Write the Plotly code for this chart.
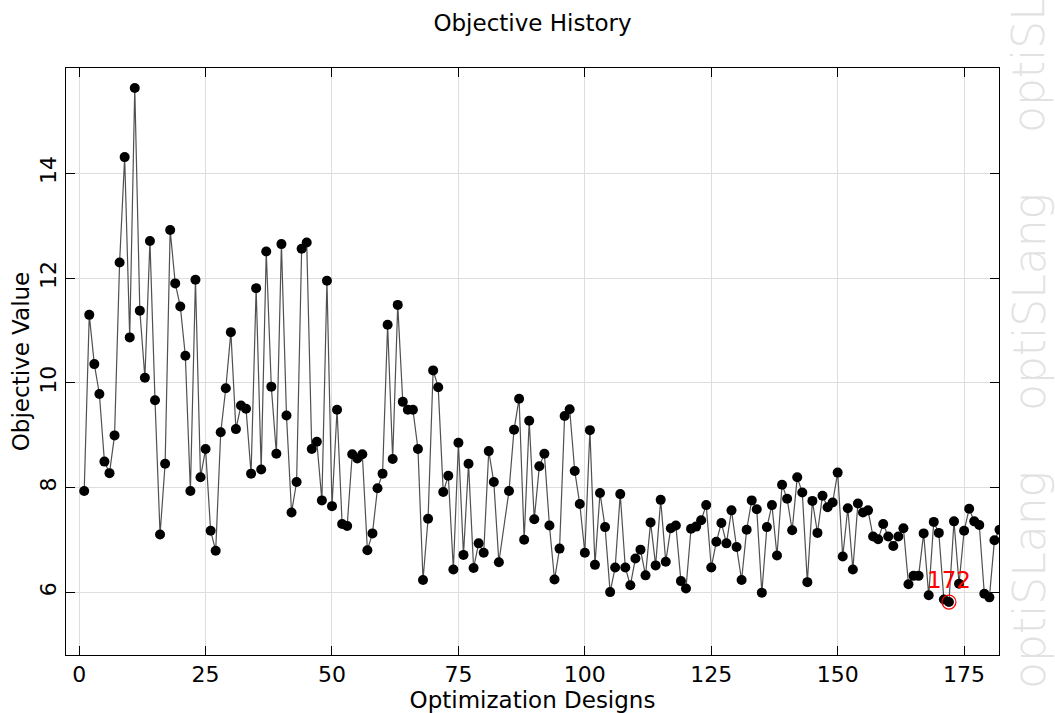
import numpy as np
import plotly.graph_objects as go

# Design numbers (design 84 produced no result)
designs = list(range(1, 84)) + list(range(85, 183))

# Objective value per design
objective = [
    7.94, 11.30, 10.36, 9.79, 8.50, 8.28, 9.00, 12.30, 14.31, 10.87,
    15.63, 11.38, 10.10, 12.71, 9.67, 7.11, 8.46, 12.92, 11.90, 11.46,
    10.52, 7.94, 11.97, 8.20, 8.74, 7.18, 6.80, 9.06, 9.90, 10.97,
    9.12, 9.57, 9.51, 8.27, 11.81, 8.35, 12.51, 9.93, 8.65, 12.65,
    9.38, 7.53, 8.11, 12.56, 12.68, 8.74, 8.88, 7.76, 11.95, 7.65,
    9.49, 7.31, 7.27, 8.64, 8.56, 8.64, 6.81, 7.13, 7.99, 8.27,
    11.11, 8.55, 11.49, 9.64, 9.49, 9.49, 8.74, 6.24, 7.41, 10.24,
    9.92, 7.92, 8.23, 6.44, 8.86, 6.72, 8.46, 6.47, 6.94, 6.76,
    8.70, 8.11, 6.58,
    7.94, 9.11, 9.70, 7.01, 9.28, 7.40, 8.41, 8.65, 7.28, 6.25,
    6.84, 9.37, 9.50, 8.32, 7.69, 6.76, 9.10, 6.53, 7.90, 7.25,
    6.01, 6.48, 7.88, 6.48, 6.14, 6.65, 6.82, 6.33, 7.34, 6.52,
    7.77, 6.59, 7.23, 7.28, 6.22, 6.08, 7.22, 7.26, 7.38, 7.67,
    6.48, 6.97, 7.33, 6.94, 7.57, 6.87, 6.24, 7.20, 7.76, 7.59,
    6.00, 7.25, 7.67, 6.71, 8.06, 7.79, 7.19, 8.20, 7.91, 6.20,
    7.75, 7.14, 7.85, 7.63, 7.72, 8.29, 6.69, 7.61, 6.44, 7.70,
    7.53, 7.57, 7.07, 7.02, 7.31, 7.07, 6.89, 7.07, 7.23, 6.16,
    6.32, 6.32, 7.13, 5.95, 7.35, 7.14, 5.87, 5.82, 7.36, 6.17,
    7.18, 7.60, 7.36, 7.29, 5.98, 5.91, 7.00, 7.20,
]

x_ticks = [0, 25, 50, 75, 100, 125, 150, 175]
y_ticks = [6, 8, 10, 12, 14]

best = int(np.argmin(objective))
best_design = designs[best]
best_value = objective[best]

W, H = 1055, 713
L, R, T, B = 66, 56, 68, 58
plot_w = W - L - R
plot_h = H - T - B

FONT = "DejaVu Sans"

fig = go.Figure()

fig.add_trace(go.Scatter(
    x=designs, y=objective, mode="lines+markers",
    line=dict(color="#505050", width=1.2),
    marker=dict(color="black", size=10, symbol="circle"),
    showlegend=False, hoverinfo="x+y",
))

# highlight of the best design
fig.add_trace(go.Scatter(
    x=[best_design], y=[best_value], mode="markers",
    marker=dict(symbol="circle-open", size=14, color="red", line=dict(width=1.2, color="red")),
    showlegend=False, hoverinfo="skip",
))

fig.add_annotation(
    x=best_design, y=best_value, text=str(best_design), showarrow=False,
    yshift=22, font=dict(family=FONT, size=23, color="red"),
)

# vertical watermark along the right edge
for yc in [580, 302, 24]:
    fig.add_annotation(
        xref="paper", yref="paper",
        x=(1029 - L) / plot_w, y=(H - B - yc) / plot_h,
        text="optiSLang", textangle=-90, showarrow=False,
        font=dict(family=FONT, size=44, color="#e2e2e2", weight=200),
        xanchor="center", yanchor="middle",
    )

axis_common = dict(
    showline=True, linecolor="black", linewidth=1, mirror="allticks",
    ticks="inside", ticklen=9, tickcolor="black", tickwidth=1,
    showgrid=True, gridcolor="#dedede", gridwidth=1, zeroline=False,
    automargin=False,
    tickfont=dict(family=FONT, size=22, color="black"),
)

fig.update_xaxes(
    range=[-2.6, 181.9], tickvals=x_ticks,
    title=dict(text="Optimization Designs", font=dict(family=FONT, size=23, color="black"), standoff=0),
    **axis_common,
)
fig.update_yaxes(
    range=[4.81, 16.01], tickvals=y_ticks, tickangle=-90,
    title=dict(text="Objective Value", font=dict(family=FONT, size=23, color="black"), standoff=0),
    **axis_common,
)

fig.update_layout(
    width=W, height=H, autosize=False,
    margin=dict(l=L, r=R, t=T, b=B),
    paper_bgcolor="white", plot_bgcolor="white",
    title=dict(text="Objective History", x=(L + plot_w / 2) / W, xanchor="center",
               y=1 - 23 / H, yanchor="middle",
               font=dict(family=FONT, size=23, color="black")),
)

fig.write_html("out.html")
